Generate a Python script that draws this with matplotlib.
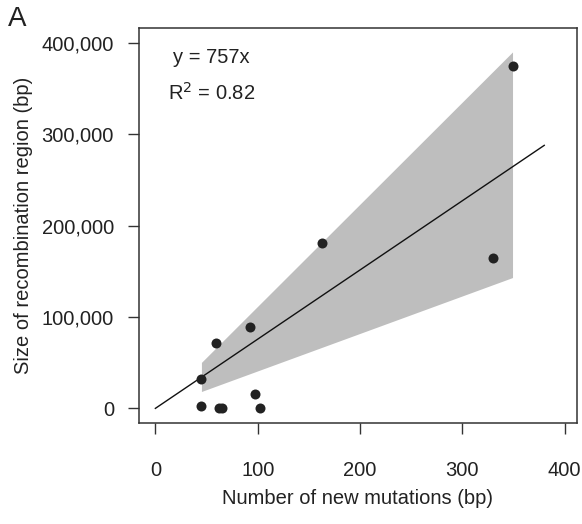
import numpy as np
import matplotlib
matplotlib.use("Agg")
import matplotlib.pyplot as plt

plt.rcParams['font.family'] = ['Liberation Sans', 'DejaVu Sans']

# new mutations (bp) vs. size of recombination region (bp)
mutations = [349, 330, 163, 92, 59, 45, 45, 62, 65, 97, 102]
region = [374000, 164000, 181000, 88800, 71000, 32600, 3000, 300, 300, 16100, 300]

slope = 757          # fitted line through the origin
r2 = 0.82
ci_lo_slope = 410    # confidence band slopes
ci_hi_slope = 1117

xticks = [0, 100, 200, 300, 400]
yticks = [0, 100000, 200000, 300000, 400000]

fs = 14.5

fig = plt.figure(figsize=(5.82, 5.24), dpi=100)
ax = fig.add_axes([139 / 582, 1 - 423 / 524, 438 / 582, 395 / 524])

x = np.array(mutations)
xs = np.array([x.min(), x.max()])
ax.fill_between(xs, ci_lo_slope * xs, ci_hi_slope * xs, color='#bebebe', lw=0, zorder=1)

xl = np.array([0, 380])
ax.plot(xl, slope * xl, color='#111111', lw=1.0, zorder=2)

ax.plot(mutations, region, 'o', color='#222222', ms=7.2, mec='none', zorder=3)

ax.set_xlim(-16, 412)
ax.set_ylim(-16000, 416000)
ax.set_xticks(xticks)
ax.set_yticks(yticks)
ax.set_yticklabels([f"{v:,}" for v in yticks])

for s in ax.spines.values():
    s.set_color('#333333')
    s.set_linewidth(1.1)

ax.tick_params(axis='both', direction='out', length=8, width=1.0, color='#333333',
               labelsize=fs, labelcolor='#222222')
ax.tick_params(axis='y', pad=10)
ax.tick_params(axis='x', pad=19)

ax.set_xlabel("Number of new mutations (bp)", fontsize=fs, color='#222222', labelpad=7)
ax.set_ylabel("Size of recombination region (bp)", fontsize=fs, color='#222222', labelpad=6)

ax.text(0.165, 0.925, f"y = {slope}x", transform=ax.transAxes, ha='center', va='center',
        fontsize=fs, color='#222222')
ax.text(0.165, 0.835, f"R$^2$ = {r2}", transform=ax.transAxes, ha='center', va='center',
        fontsize=fs, color='#222222')

fig.text(8 / 582, 1 - 19 / 524, "A", fontsize=20, color='#222222', ha='left', va='center')

fig.savefig("out.png", dpi=100)
